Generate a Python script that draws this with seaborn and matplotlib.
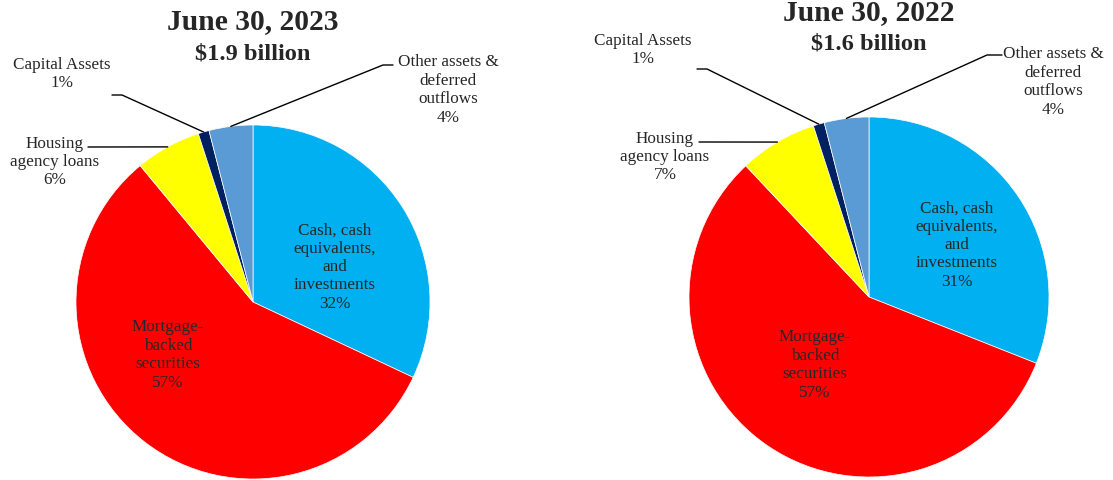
import matplotlib
matplotlib.use("Agg")
import matplotlib.pyplot as plt
import seaborn as sns
import numpy as np
from matplotlib.lines import Line2D
from matplotlib.transforms import IdentityTransform

sns.set_theme(style="white")
plt.rcParams['font.family'] = ['Liberation Serif', 'DejaVu Serif']

# data
categories = ["Cash, cash\nequivalents,\nand\ninvestments", "Mortgage-\nbacked\nsecurities",
              "Housing\nagency loans", "Capital Assets", "Other assets &\ndeferred\noutflows"]
values_2023 = [32, 57, 6, 1, 4]
values_2022 = [31, 57, 7, 1, 4]
titles = ["June 30, 2023", "June 30, 2022"]
totals = ["$1.9 billion", "$1.6 billion"]
colors = ["#00B0F0", "#FF0000", "#FFFF00", "#002060", "#5B9BD5"]

W, H = 1113, 480
fig = plt.figure(figsize=(W / 100, H / 100), dpi=100)


def px_box(cx, cy, r):
    return [(cx - r) / W, (H - cy - r) / H, 2 * r / W, 2 * r / H]


# layout in pixels (x, y from top)
layouts = [
    dict(center=(253, 302), r=177, title=(253, 22), total=(253, 54),
         inside=[(335, 267), (168, 355)],
         outside=[
             (2, (55, 162), [(88, 147)]),
             (3, (62, 74), [(112, 95), (122, 95)]),
             (4, (448, 90), [(393, 65), (383, 65)]),
         ]),
    dict(center=(869, 297), r=180, title=(869, 13), total=(869, 44),
         inside=[(957, 245), (815, 365)],
         outside=[
             (2, (665, 157), [(699, 142)]),
             (3, (643, 50), [(697, 69), (707, 69)]),
             (4, (1053, 82), [(1002, 55), (987, 55)]),
         ]),
]

for vals, title, total, lay in zip([values_2023, values_2022], titles, totals, layouts):
    ax = fig.add_axes(px_box(*lay["center"], lay["r"]))
    wedges, _ = ax.pie(vals, colors=colors, startangle=90, counterclock=False,
                       wedgeprops=dict(linewidth=0.5, edgecolor="white"))
    ax.set_xlim(-1, 1)
    ax.set_ylim(-1, 1)
    ax.axis("off")

    fig.text(lay["title"][0] / W, 1 - lay["title"][1] / H, title, ha="center", va="center",
             fontsize=21.3, fontweight="bold")
    fig.text(lay["total"][0] / W, 1 - lay["total"][1] / H, total, ha="center", va="center",
             fontsize=17.6, fontweight="bold")

    for i, pos in enumerate(lay["inside"]):
        fig.text(pos[0] / W, 1 - pos[1] / H, f"{categories[i]}\n{vals[i]}%", ha="center",
                 va="center", fontsize=12.3, linespacing=1.2)

    for i, pos, pts in lay["outside"]:
        fig.text(pos[0] / W, 1 - pos[1] / H, f"{categories[i]}\n{vals[i]}%", ha="center",
                 va="center", fontsize=12.3, linespacing=1.2)
        w = wedges[i]
        mid = np.deg2rad((w.theta1 + w.theta2) / 2)
        ex, ey = ax.transData.transform((np.cos(mid), np.sin(mid)))
        xs = [p[0] for p in pts] + [ex]
        ys = [H - p[1] for p in pts] + [ey]
        fig.add_artist(Line2D(xs, ys, color="black", linewidth=1, transform=IdentityTransform()))

fig.savefig("out.png", dpi=100, facecolor="white")
